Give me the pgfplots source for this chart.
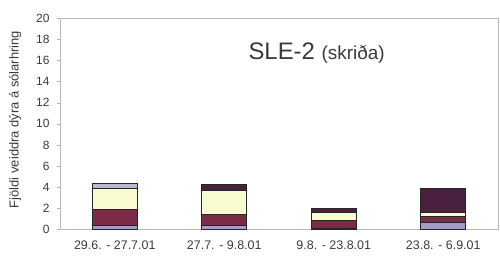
\documentclass[border=0pt]{standalone}
\usepackage{pgfplots}
\pgfplotsset{compat=1.18}
\usepackage{fontspec}
\setmainfont{Liberation Sans}
\definecolor{sA}{HTML}{A49CC8}
\definecolor{sB}{HTML}{7C2A45}
\definecolor{sC}{HTML}{FAFAD0}
\definecolor{sD}{HTML}{BCB8CC}
\definecolor{sE}{HTML}{4A2040}
\definecolor{txt}{HTML}{3A3A3A}
\begin{document}
\begin{tikzpicture}[x=1bp,y=1bp]
\useasboundingbox (0,0) rectangle (500,260);
\begin{axis}[
  at={(60bp,30.5bp)}, anchor=south west,
  scale only axis, width=438bp, height=211.5bp,
  xmin=-0.5, xmax=3.5, ymin=0, ymax=20,
  ybar stacked, bar width=45bp,
  axis line style={draw=gray!55},
  xtick={0,1,2,3},
  xticklabels={29.6. - 27.7.01, 27.7. - 9.8.01, 9.8. - 23.8.01, 23.8. - 6.9.01},
  major x tick style={draw=none},
  extra x ticks={0.5,1.5,2.5}, extra x tick labels={},
  extra x tick style={major tick length=3bp, tick style={draw=gray!60}, tick pos=left},
  ytick={0,2,...,20},
  tick align=outside, tick pos=left,
  major tick length=3bp,
  y tick style={draw=gray!60},
  yticklabel style={font=\fontsize{12}{12}\selectfont, text=txt, xshift=-4bp},
  xticklabel style={font=\fontsize{12.5}{12.5}\selectfont, text=txt, yshift=-5bp},
  /pgf/number format/assume math mode=true,
  ylabel={Fjöldi veiddra dýra á sólarhring},
  ylabel style={font=\fontsize{13}{13}\selectfont, text=txt, at={(axis description cs:-0.102,0.52)}, anchor=center},
  every axis plot/.append style={draw=black!85, line width=1bp},
  clip=false,
]
\addplot[fill=sA] coordinates {(0,0.4) (1,0.4) (2,0.1) (3,0.65)};
\addplot[fill=sB] coordinates {(0,1.45) (1,1.0) (2,0.75) (3,0.57)};
\addplot[fill=sC] coordinates {(0,2.0) (1,2.3) (2,0.75) (3,0.35)};
\addplot[fill=sD] coordinates {(0,0.5) (1,0) (2,0) (3,0)};
\addplot[fill=sE] coordinates {(0,0) (1,0.6) (2,0.4) (3,2.3)};
\node[anchor=west, inner sep=0pt, text=txt] at (rel axis cs:0.43,0.834)
  {\fontsize{24}{24}\selectfont SLE-2 \fontsize{19}{19}\selectfont(skriða)};
\end{axis}
\draw[gray!55] (60,242) -- (498,242) -- (498,30.5);
\end{tikzpicture}
\end{document}
